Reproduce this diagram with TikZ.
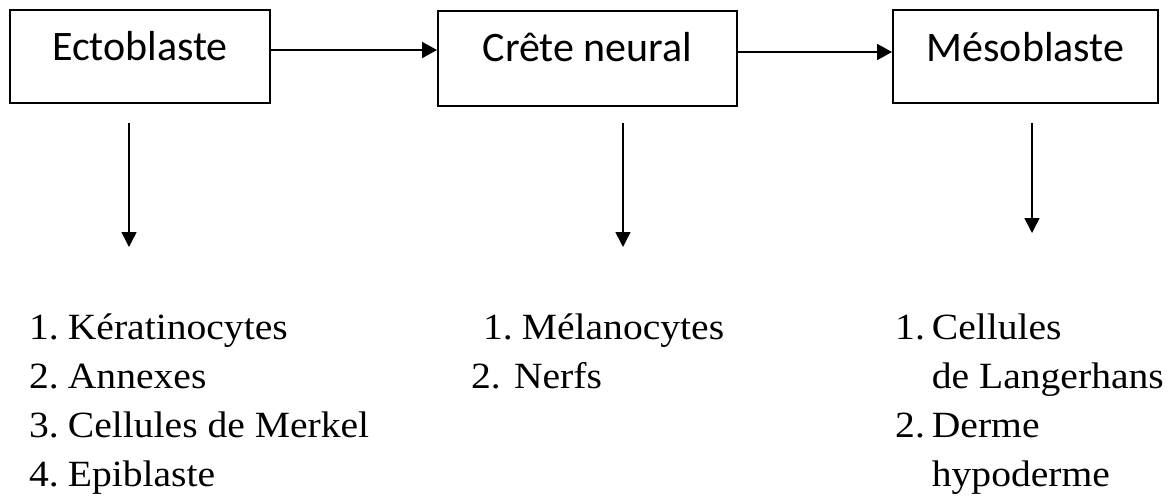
\documentclass[tikz,border=0pt]{standalone}
\usepackage{fontspec}
\setmainfont{Liberation Serif}[FakeStretch=1.07]
\newfontfamily\boxfont{Carlito}
\usepackage{tikz}
\usetikzlibrary{arrows.meta}

\begin{document}
\begin{tikzpicture}[x=1pt,y=-1pt,
    layer/.style={draw,line width=2pt,inner sep=0pt,text height=50pt,
      font=\boxfont\fontsize{42}{50}\selectfont},
    harrow/.style={line width=2pt,-{Triangle[length=15pt,width=16pt]}},
    varrow/.style={line width=1.5pt,-{Triangle[length=15pt,width=15pt]}},
    liste/.style={inner sep=0pt,anchor=base west,
      font=\fontsize{37}{49}\selectfont}]
\useasboundingbox (0,0) rectangle (1176,499);

% feuillets
\node[layer,minimum width=260pt,text depth=43pt] (ecto) at (140,56.5) {Ectoblaste};
\node[layer,minimum width=299pt,text depth=45pt] (crete) at (587.5,58.5) {Crête neural};
\node[layer,minimum width=265pt,text height=51pt,text depth=42pt] (meso) at (1025.5,56.5) {Mésoblaste};

\coordinate (h1) at (0,50);
\coordinate (h2) at (0,52);
\draw[harrow] (ecto.east |- h1) -- (crete.west |- h1);
\draw[harrow] (crete.east |- h2) -- (meso.west |- h2);

% derives
\node[liste] (lecto) at (29,339) {\begin{tabular}[t]{@{}l@{\hspace{9pt}}l@{}}
  1. & Kératinocytes\\
  2. & Annexes\\
  3. & Cellules de Merkel\\
  4. & Epiblaste
\end{tabular}};
\node[liste] (lcrete) at (471,339) {\begin{tabular}[t]{@{}l@{}}
  \hspace*{12pt}1.\hspace{9pt}Mélanocytes\\
  2. Nerfs
\end{tabular}};
\node[liste] (lmeso) at (895,339) {\begin{tabular}[t]{@{}l@{\hspace{7pt}}l@{}}
  1. & Cellules\\
     & de Langerhans\\
  2. & Derme\\
     & hypoderme
\end{tabular}};

\coordinate (d1) at (129,123);
\coordinate (t1) at (129,247);
\coordinate (d2) at (623,123);
\coordinate (t2) at (623,247);
\coordinate (d3) at (1032,123);
\coordinate (t3) at (1032,233);
\foreach \i in {1,2,3}
  \draw[varrow] (d\i) -- (t\i);
\end{tikzpicture}
\end{document}
